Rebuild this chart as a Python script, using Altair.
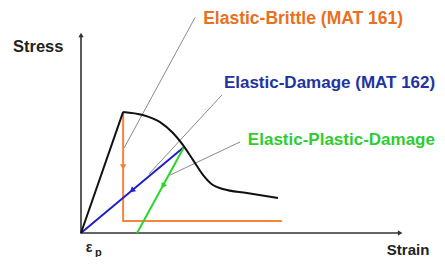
import altair as alt
import pandas as pd

# ---- data (strain / stress in normalised units) ----
elastic_x = [0.0, 0.130]
elastic_y = [0.0, 0.621]
soft_x = [0.130, 0.191, 0.244, 0.284, 0.315, 0.346, 0.377, 0.407, 0.438, 0.512, 0.608]
soft_y = [0.621, 0.605, 0.569, 0.513, 0.451, 0.374, 0.297, 0.246, 0.226, 0.205, 0.179]
brittle_x = [0.130, 0.130, 0.620]
brittle_y = [0.621, 0.0615, 0.0615]
damage_x = [0.318, 0.0]
damage_y = [0.441, 0.0]
plastic_x = [0.318, 0.173]
plastic_y = [0.441, 0.0]

axis_x = [0.0, 0.0, 0.985]
axis_y = [1.015, 0.0, 0.0]

leader_names = ["l1", "l1", "l2", "l2", "l3", "l3"]
leader_x = [0.352, 0.133, 0.435, 0.210, 0.491, 0.275]
leader_y = [1.105, 0.436, 0.708, 0.303, 0.467, 0.297]

arrow_x = [0.130, 0.157, 0.253, 0.0, 0.985]
arrow_y = [0.338, 0.218, 0.241, 1.015, 0.0]
arrow_angle = [180, 230, 209, 0, 90]
arrow_color = ["#F07F3A", "#2020C8", "#2AD62A", "#333333", "#333333"]
arrow_size = [40, 40, 40, 28, 28]

labels = ["Elastic-Brittle (MAT 161)", "Elastic-Damage (MAT 162)", "Elastic-Plastic-Damage",
          "Stress", "Strain", "ε", "p"]
label_x = [0.377, 0.441, 0.515, -0.210, 0.944, 0.015, 0.043]
label_y = [1.072, 0.744, 0.451, 0.928, -0.113, -0.097, -0.118]
label_color = ["#E8701E", "#2233A0", "#30CC30", "#222222", "#222222", "#222222", "#222222"]
label_size = [17.5, 17, 17, 16.5, 15, 14, 11]

# ---- scale mapping ----
W, H = 429, 249
ox, oy = 81 - 8, 233 - 8  # origin in view pixels
kx, ky = 324.0, 195.0     # pixels per unit
xdom = [-ox / kx, (W - ox) / kx]
ydom = [(oy - H) / ky, oy / ky]
X = lambda f: alt.X(f, type="quantitative", scale=alt.Scale(domain=xdom, nice=False, zero=False), axis=None)
Y = lambda f: alt.Y(f, type="quantitative", scale=alt.Scale(domain=ydom, nice=False, zero=False), axis=None)


def line_df(xs, ys):
    return pd.DataFrame({"x": xs, "y": ys, "o": list(range(len(xs)))})


def line_layer(xs, ys, color, width, interp="linear"):
    return alt.Chart(line_df(xs, ys)).mark_line(color=color, strokeWidth=width, interpolate=interp).encode(
        x=X("x"), y=Y("y"), order="o:Q")


axes = line_layer(axis_x, axis_y, "#333333", 1.6)
leaders = alt.Chart(pd.DataFrame({"g": leader_names, "x": leader_x, "y": leader_y})).mark_line(
    color="#8a8a8a", strokeWidth=1).encode(x=X("x"), y=Y("y"), detail="g:N")
brittle = line_layer(brittle_x, brittle_y, "#F5843C", 2)
damage = line_layer(damage_x, damage_y, "#2020C8", 2)
plastic = line_layer(plastic_x, plastic_y, "#2AD62A", 2)
elastic = line_layer(elastic_x, elastic_y, "#111111", 2)
soft = line_layer(soft_x, soft_y, "#111111", 2, "monotone")

arrows = alt.Chart(pd.DataFrame({"x": arrow_x, "y": arrow_y, "a": arrow_angle,
                                 "c": arrow_color, "s": arrow_size})).mark_point(
    shape="triangle-up", filled=True, opacity=1).encode(
    x=X("x"), y=Y("y"), angle=alt.Angle("a:Q", scale=None),
    color=alt.Color("c:N", scale=None), size=alt.Size("s:Q", scale=None))

texts = alt.Chart(pd.DataFrame({"t": labels, "x": label_x, "y": label_y,
                                "c": label_color, "s": label_size})).mark_text(
    align="left", baseline="alphabetic", font="Liberation Sans", fontWeight="bold").encode(
    x=X("x"), y=Y("y"), text="t:N", color=alt.Color("c:N", scale=None), size=alt.Size("s:Q", scale=None))

chart = alt.layer(axes, leaders, brittle, damage, plastic, elastic, soft, arrows, texts).properties(
    width=W, height=H, padding=0, autosize=alt.AutoSizeParams(type="none"),
    background="white").configure_view(stroke=None)

chart.save("out.html", embed_options={"renderer": "svg", "actions": False})
